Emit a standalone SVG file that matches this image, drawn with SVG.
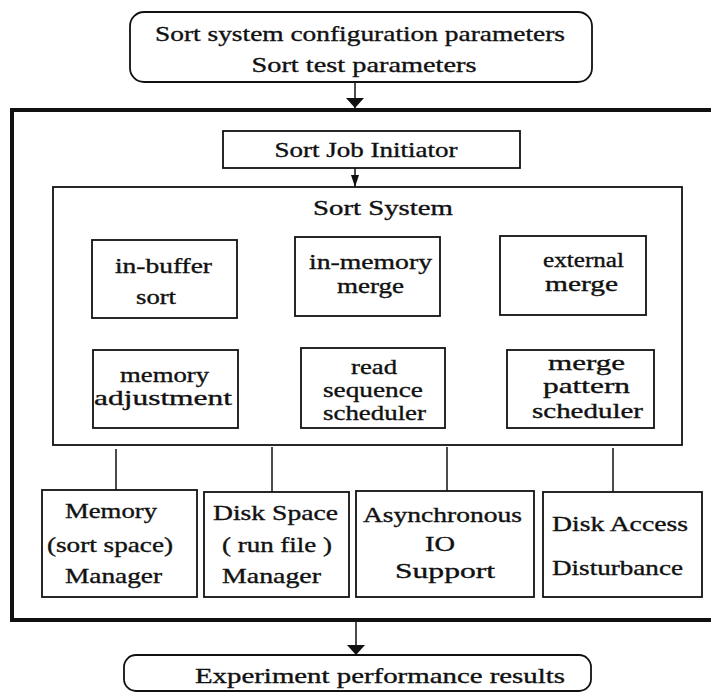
<svg xmlns="http://www.w3.org/2000/svg" width="711" height="695" viewBox="0 0 711 695">
  <style>
    .box { fill: #fff; stroke: #111; stroke-width: 1.8; }
    .outer { fill: none; stroke: #111; stroke-width: 4; }
    .wire { fill: none; stroke: #111; stroke-width: 1.5; }
    text { font-family: "Liberation Serif", "Times New Roman", serif; font-size: 21px; fill: #111; stroke: #111; stroke-width: 0.35; text-anchor: middle; }
    .big { font-size: 22px; }
    .tight { font-size: 20px; }
  </style>
  <defs>
    <marker id="head" viewBox="0 0 10 18" refX="10" refY="9" markerWidth="10" markerHeight="18" markerUnits="userSpaceOnUse" orient="auto">
      <path d="M0,0 L10,9 L0,18 Z" fill="#111"/>
    </marker>
    <marker id="headThin" viewBox="0 0 12 8" refX="12" refY="4" markerWidth="12" markerHeight="8" markerUnits="userSpaceOnUse" orient="auto">
      <path d="M0,0 L12,4 L0,8 Z" fill="#111"/>
    </marker>
  </defs>

  <!-- enclosing frame of the sort test harness -->
  <rect class="outer" x="12" y="110" width="704" height="510"/>

  <g id="connectors">
    <line class="wire" x1="355" y1="82" x2="355" y2="108" marker-end="url(#head)"/>
    <line class="wire" x1="355" y1="168" x2="355" y2="187" marker-end="url(#headThin)"/>
    <line class="wire" x1="116" y1="449" x2="116" y2="490"/>
    <line class="wire" x1="272" y1="447" x2="272" y2="492"/>
    <line class="wire" x1="447" y1="447" x2="447" y2="491"/>
    <line class="wire" x1="613" y1="448" x2="613" y2="492"/>
    <line class="wire" x1="356" y1="622" x2="356" y2="655" marker-end="url(#head)"/>
  </g>

  <g id="params">
    <rect class="box" x="130" y="12" width="462" height="70" rx="14"/>
    <text class="big" x="360" y="41" textLength="410" lengthAdjust="spacingAndGlyphs">Sort system configuration parameters</text>
    <text class="big" x="364" y="72" textLength="225" lengthAdjust="spacingAndGlyphs">Sort test parameters</text>
  </g>

  <g id="job-initiator">
    <rect class="box" x="223" y="131" width="297" height="37"/>
    <text x="366" y="157" textLength="183" lengthAdjust="spacingAndGlyphs">Sort Job Initiator</text>
  </g>

  <g id="sort-system">
    <rect class="box" x="53" y="187" width="629" height="258"/>
    <text x="383" y="215" textLength="140" lengthAdjust="spacingAndGlyphs">Sort System</text>
  </g>

  <g id="in-buffer-sort">
    <rect class="box" x="92" y="240" width="145" height="78"/>
    <text x="163.5" y="273" textLength="97" lengthAdjust="spacingAndGlyphs">in-buffer</text>
    <text x="156" y="304" textLength="40" lengthAdjust="spacingAndGlyphs">sort</text>
  </g>

  <g id="in-memory-merge">
    <rect class="box" x="295" y="237" width="145" height="79"/>
    <text class="tight" x="370.5" y="269" textLength="123" lengthAdjust="spacingAndGlyphs">in-memory</text>
    <text class="tight" x="370.5" y="293" textLength="67" lengthAdjust="spacingAndGlyphs">merge</text>
  </g>

  <g id="external-merge">
    <rect class="box" x="500" y="236" width="146" height="79"/>
    <text class="tight" x="583.5" y="267" textLength="81" lengthAdjust="spacingAndGlyphs">external</text>
    <text class="tight" x="581.5" y="291" textLength="73" lengthAdjust="spacingAndGlyphs">merge</text>
  </g>

  <g id="memory-adjustment">
    <rect class="box" x="93" y="350" width="145" height="78"/>
    <text x="164.5" y="382" textLength="89" lengthAdjust="spacingAndGlyphs">memory</text>
    <text x="163" y="405" textLength="138" lengthAdjust="spacingAndGlyphs">adjustment</text>
  </g>

  <g id="read-sequence-scheduler">
    <rect class="box" x="301" y="348" width="144" height="80"/>
    <text x="374" y="374" textLength="46" lengthAdjust="spacingAndGlyphs">read</text>
    <text x="373" y="397" textLength="100" lengthAdjust="spacingAndGlyphs">sequence</text>
    <text x="374.5" y="420" textLength="103" lengthAdjust="spacingAndGlyphs">scheduler</text>
  </g>

  <g id="merge-pattern-scheduler">
    <rect class="box" x="507" y="350" width="147" height="78"/>
    <text x="586.5" y="370" textLength="77" lengthAdjust="spacingAndGlyphs">merge</text>
    <text x="586.5" y="393" textLength="87" lengthAdjust="spacingAndGlyphs">pattern</text>
    <text x="587.5" y="418" textLength="111" lengthAdjust="spacingAndGlyphs">scheduler</text>
  </g>

  <g id="memory-manager">
    <rect class="box" x="42" y="490" width="155" height="107"/>
    <text x="111" y="518" textLength="92" lengthAdjust="spacingAndGlyphs">Memory</text>
    <text x="110" y="552" textLength="126" lengthAdjust="spacingAndGlyphs">(sort space)</text>
    <text x="113.5" y="583" textLength="97" lengthAdjust="spacingAndGlyphs">Manager</text>
  </g>

  <g id="disk-space-manager">
    <rect class="box" x="204" y="492" width="145" height="105"/>
    <text x="275.5" y="520" textLength="125" lengthAdjust="spacingAndGlyphs">Disk Space</text>
    <text x="277" y="552" textLength="110" lengthAdjust="spacingAndGlyphs">( run file )</text>
    <text x="271.5" y="583" textLength="99" lengthAdjust="spacingAndGlyphs">Manager</text>
  </g>

  <g id="async-io-support">
    <rect class="box" x="356" y="491" width="178" height="106"/>
    <text x="442.5" y="522" textLength="159" lengthAdjust="spacingAndGlyphs">Asynchronous</text>
    <text x="440" y="551" textLength="30" lengthAdjust="spacingAndGlyphs">IO</text>
    <text x="445" y="578" textLength="100" lengthAdjust="spacingAndGlyphs">Support</text>
  </g>

  <g id="disk-access-disturbance">
    <rect class="box" x="543" y="492" width="159" height="105"/>
    <text x="620" y="531" textLength="136" lengthAdjust="spacingAndGlyphs">Disk Access</text>
    <text x="617.5" y="575" textLength="131" lengthAdjust="spacingAndGlyphs">Disturbance</text>
  </g>

  <g id="results">
    <rect class="box" x="124" y="655" width="467" height="36" rx="12"/>
    <text x="380" y="683" textLength="370" lengthAdjust="spacingAndGlyphs">Experiment performance results</text>
  </g>
</svg>
